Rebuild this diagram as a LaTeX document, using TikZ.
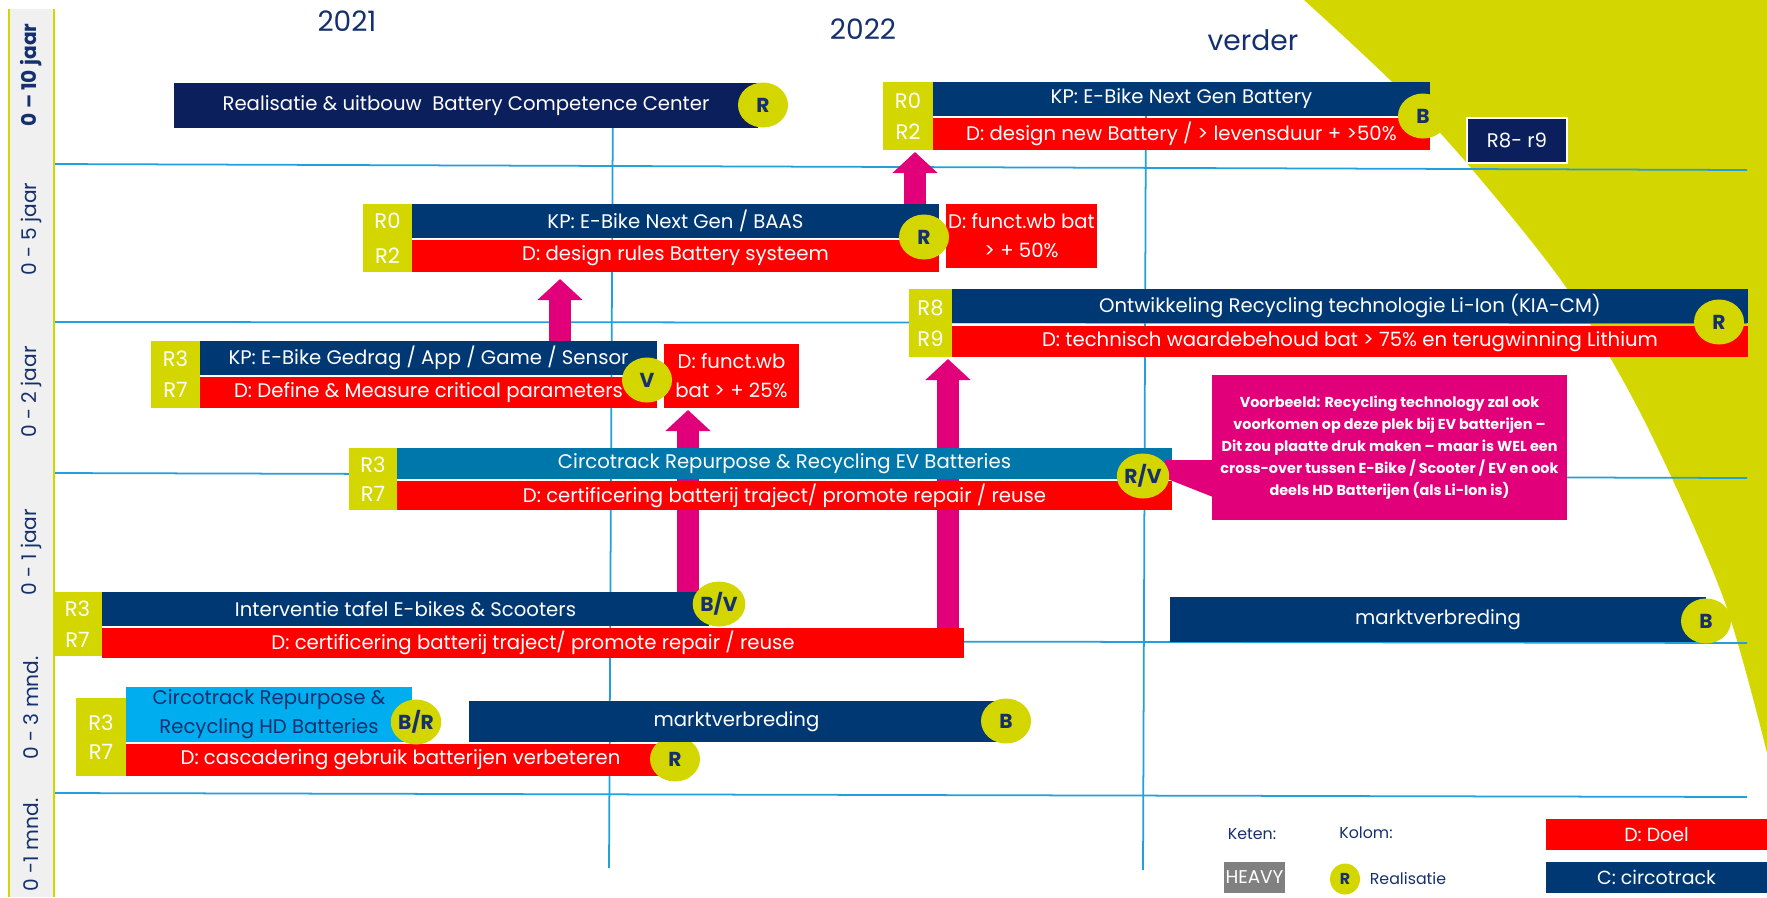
\documentclass[tikz,border=0pt]{standalone}
\usepackage{fontspec}
\setmainfont{Poppins}
\usetikzlibrary{arrows.meta,shapes.geometric,backgrounds}
\def\px{0.02cm}
\definecolor{accentGreen}{HTML}{D4D600}
\definecolor{navyBar}{HTML}{003874}
\definecolor{navyDeep}{HTML}{0A1F5C}
\definecolor{goalRed}{HTML}{FF0000}
\definecolor{arrowPink}{HTML}{E2007A}
\definecolor{evTeal}{HTML}{0077AA}
\definecolor{hdCyan}{HTML}{00AEEF}
\definecolor{gridBlue}{HTML}{22A0DC}
\definecolor{textNavy}{HTML}{14306E}
\definecolor{bandGray}{HTML}{F0F0F0}
\definecolor{heavyGray}{HTML}{808080}
\newcommand\barfont{\fontsize{11.2}{13}\selectfont}
\newcommand\tagfont{\fontsize{12}{17.5}\selectfont}
\newcommand\badgefont{\fontsize{11.5}{13}\selectfont\bfseries}
\newcommand\notefont{\fontsize{8.2}{12.5}\selectfont\bfseries}
\newcommand\yearfont{\fontsize{16}{19}\selectfont}
\newcommand\axisfont{\fontsize{11.5}{13}\selectfont}
\newcommand\keyfont{\fontsize{9}{11}\selectfont}
\tikzset{
  rect/.style 2 args={minimum width=#1*\px, minimum height=#2*\px, inner sep=0pt, outer sep=0pt, anchor=north west},
  bar/.style={text=white, font=\barfont, align=center},
  kpbar/.style={bar, fill=navyBar},
  goalbar/.style={bar, fill=goalRed},
  tagbox/.style={fill=accentGreen, text=white, font=\tagfont, align=center},
  badge/.style={ellipse, fill=accentGreen, text=textNavy, font=\badgefont, minimum width=50*\px, minimum height=45*\px, inner sep=0pt},
  flow/.style={draw=arrowPink, line width=0.44cm, -{Triangle[width=0.88cm,length=0.42cm]}, shorten >=0.04cm},
  grid line/.style={draw=gridBlue, line width=1pt},
  axis label/.style={rotate=90, text=textNavy, font=\axisfont},
  year/.style={text=textNavy, font=\yearfont},
  key/.style={text=textNavy, font=\keyfont}
}
\begin{document}
\begin{tikzpicture}[x=\px, y=-\px]
\useasboundingbox (0,0) rectangle (1767,897);
\begin{scope}[on background layer]
\fill[accentGreen] plot[smooth] coordinates {(1304,0) (1392,82) (1471,168) (1568,290) (1644,420) (1723,597) (1767,753)} -- (1767,0) -- cycle;
\draw[grid line] (54,164) -- (1747,170);
\draw[grid line] (54,322) -- (1747,323);
\draw[grid line] (54,473) -- (1747,478);
\draw[grid line] (54,640) -- (1747,643);
\draw[grid line] (54,793) -- (1747,797);
\draw[grid line] (613,85) -- (609,868);
\draw[grid line] (1146,85) -- (1143,870);
\end{scope}

\fill[bandGray] (9,9) rectangle (54,897);
\draw[accentGreen, line width=1pt] (9,9) -- (9,897) (54,9) -- (54,897);
\node[axis label, font=\axisfont\bfseries] (lblTen) at (31,75) {0 – 10 jaar};
\node[axis label] (lblFive) at (31,229) {0 - 5 jaar};
\node[axis label] (lblTwo) at (31,392) {0 - 2 jaar};
\node[axis label] (lblOne) at (31,552) {0 - 1 jaar};
\node[axis label] (lblThree) at (31,708) {0 - 3 mnd.};
\node[axis label] (lblMonth) at (31,845) {0 -1 mnd.};

\node[year] (yr2021) at (347,21) {2021};
\node[year] (yr2022) at (863,29) {2022};
\node[year] (yrLater) at (1253,40) {verder};

\node[kpbar, rect={584}{45}, fill=navyDeep] (bcc) at (174,83) {Realisatie \& uitbouw\ \ Battery Competence Center};
\node[badge] (bccBadge) at (763,105) {R};

\node[tagbox, rect={50}{68}] (nbTag) at (883,82) {R0\\R2};
\node[kpbar, rect={497}{34}] (nbKP) at (933,82) {KP: E-Bike Next Gen Battery};
\node[goalbar, rect={497}{32}] (nbDoel) at (933,118) {D: design new Battery / > levensduur + >50\%};
\node[badge] (nbBadge) at (1423,116) {B};
\node[kpbar, rect={100}{45}, fill=navyDeep, draw=white, line width=1.5pt] (rNine) at (1467,118) {R8- r9};

\node[tagbox, rect={49}{68}, font=\fontsize{12}{20}\selectfont] (ngTag) at (363,204) {R0\\R2};
\node[kpbar, rect={527}{34}] (ngKP) at (412,204) {KP: E-Bike Next Gen / BAAS};
\node[goalbar, rect={527}{32}] (ngDoel) at (412,240) {D: design rules Battery systeem};
\node[goalbar, rect={151}{64}, font=\fontsize{11.2}{16.5}\selectfont] (ngExtra) at (946,204) {D: funct.wb bat\\> + 50\%};
\node[badge] (ngBadge) at (924,237) {R};

\node[tagbox, rect={43}{68}] (reTag) at (909,289) {R8\\R9};
\node[kpbar, rect={796}{34}] (reKP) at (952,289) {Ontwikkeling Recycling technologie Li-Ion (KIA-CM)};
\node[goalbar, rect={796}{31}] (reDoel) at (952,326) {D: technisch waardebehoud bat > 75\% en terugwinning Lithium};
\node[badge] (reBadge) at (1719,322) {R};

\node[tagbox, rect={49}{67}] (gdTag) at (151,341) {R3\\R7};
\node[kpbar, rect={457}{34}] (gdKP) at (200,341) {KP: E-Bike Gedrag / App / Game / Sensor};
\node[goalbar, rect={457}{31}] (gdDoel) at (200,377) {D: Define \& Measure critical parameters};
\node[goalbar, rect={135}{64}, font=\fontsize{11.2}{16.5}\selectfont] (gdExtra) at (664,344) {D: funct.wb\\bat > + 25\%};
\node[badge] (gdBadge) at (647,380) {V};

\node[tagbox, rect={48}{62}, font=\fontsize{12}{16.5}\selectfont] (evTag) at (349,448) {R3\\R7};
\node[kpbar, rect={775}{31}, fill=evTeal] (evKP) at (397,448) {Circotrack Repurpose \& Recycling EV Batteries};
\node[goalbar, rect={775}{29}] (evDoel) at (397,481) {D: certificering batterij traject/ promote repair / reuse};
\node[rect={355}{145}, fill=arrowPink, text=white, font=\notefont, align=center] (note) at (1212,375) {Voorbeeld: Recycling technology zal ook\\voorkomen op deze plek bij EV batterijen –\\Dit zou plaatte druk maken – maar is WEL een\\cross-over tussen E-Bike / Scooter / EV en ook\\deels HD Batterijen (als Li-Ion is)};
\fill[arrowPink] (1165,460) -- (1213,460) -- (1213,497) -- (1165,478) -- cycle;
\node[badge] (evBadge) at (1143,476) {R/V};

\node[tagbox, rect={49}{64}] (itTag) at (53,592) {R3\\R7};
\node[kpbar, rect={607}{34}] (itKP) at (102,592) {Interventie tafel E-bikes \& Scooters};
\node[goalbar, rect={862}{30}] (itDoel) at (102,628) {D: certificering batterij traject/ promote repair / reuse};
\node[badge] (itBadge) at (719,604) {B/V};

\node[tagbox, rect={50}{78}, font=\fontsize{12}{16.5}\selectfont] (hdTag) at (76,698) {R3\\R7};
\node[bar, rect={286}{55}, fill=hdCyan, text=textNavy, font=\fontsize{11.2}{16.5}\selectfont] (hdKP) at (126,687) {Circotrack Repurpose \&\\Recycling HD Batteries};
\node[goalbar, rect={549}{32}] (hdDoel) at (126,744) {D: cascadering gebruik batterijen verbeteren};
\node[badge] (hdBadgeA) at (416,722) {B/R};
\node[badge] (hdBadgeB) at (675,759) {R};

\node[kpbar, rect={535}{41}] (mkA) at (469,701) {marktverbreding};
\node[badge] (mkABadge) at (1006,721) {B};
\node[kpbar, rect={536}{45}] (mkB) at (1170,597) {marktverbreding};
\node[badge] (mkBBadge) at (1706,621) {B};

\node[key] (ketenLbl) at (1252,834) {Keten:};
\node[key] (kolomLbl) at (1366,833) {Kolom:};
\node[goalbar, rect={221}{31}, font=\fontsize{10.8}{12}\selectfont] (doelKey) at (1546,819) {D: Doel};
\node[kpbar, rect={221}{31}, font=\fontsize{10.8}{12}\selectfont] (circoKey) at (1546,862) {C: circotrack};
\node[bar, rect={61}{31}, fill=heavyGray, font=\fontsize{10.5}{12}\selectfont] (heavyKey) at (1224,862) {HEAVY};
\node[badge, minimum width=30*\px, minimum height=31*\px, font=\fontsize{9}{11}\selectfont\bfseries] (realBadge) at (1345,879) {R};
\node[key] (realLbl) at (1408,879) {Realisatie};

\coordinate (arrA) at (560,0);
\coordinate (arrB) at (915,0);
\coordinate (arrC) at (688,0);
\coordinate (arrD) at (948,0);
\begin{scope}[on background layer]
\draw[flow, shorten >=0.14cm] (gdKP.north -| arrA) -- (ngDoel.south -| arrA);
\draw[flow] (ngKP.north -| arrB) -- (nbTag.south -| arrB);
\draw[flow] (itKP.north -| arrC) -- (gdExtra.south -| arrC);
\draw[flow] (itDoel.north -| arrD) -- (reTag.south -| arrD);
\end{scope}
\end{tikzpicture}
\end{document}
